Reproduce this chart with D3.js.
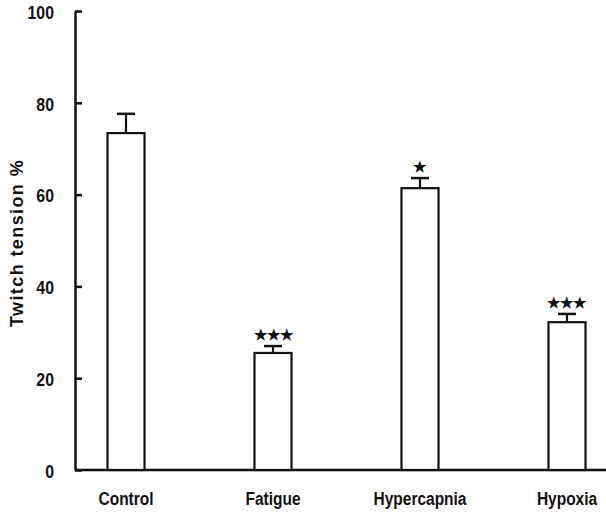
<!DOCTYPE html>
<html><head><meta charset="utf-8">
<script src="https://cdn.jsdelivr.net/npm/d3@7"></script>
<style>
body{margin:0;background:#fff;}
svg{display:block;}
text{font-family:"Liberation Sans",Arial,sans-serif;font-weight:bold;fill:#111;}
</style></head><body>
<svg id="c" width="606" height="513"></svg>
<script>
const categories = ["Control", "Fatigue", "Hypercapnia", "Hypoxia"];
const means = [73.4, 25.5, 61.4, 32.2];
const errors = [4.2, 1.5, 2.2, 1.8];
const stars = ["", "★★★", "★", "★★★"];
const yTicks = [0, 20, 40, 60, 80, 100];

const font = "Liberation Sans, Arial, sans-serif";
const svg = d3.select("#c");
const x0 = 75, yBase = 470, yTop = 11;
const x = d3.scaleBand().domain(categories).range([x0, 618]).paddingInner(0.748).paddingOuter(0.221);
const y = d3.scaleLinear().domain([0, 100]).range([yBase, yTop]);

function condense(sel, k) {
  sel.each(function () {
    const len = this.getComputedTextLength();
    d3.select(this).attr("textLength", len * k).attr("lengthAdjust", "spacingAndGlyphs");
  });
}

// Y axis
const yAxis = d3.axisLeft(y).tickValues(yTicks).tickSizeInner(-7).tickSizeOuter(0).tickPadding(21);
const gy = svg.append("g").attr("transform", `translate(${x0},0)`).call(yAxis);
gy.select(".domain").attr("stroke", "#111").attr("stroke-width", 2.5);
gy.selectAll(".tick line").attr("stroke", "#111").attr("stroke-width", 2.5);
gy.selectAll(".tick text").attr("font-size", 18).attr("font-family", font)
  .attr("font-weight", "bold").attr("fill", "#111").attr("dy", "0.4em")
  .call(condense, 0.88);

// X axis
const xAxis = d3.axisBottom(x).tickSize(0).tickPadding(22);
const gx = svg.append("g").attr("transform", `translate(0,${yBase})`).call(xAxis);
gx.select(".domain").remove();
gx.selectAll(".tick text").attr("font-size", 18).attr("font-family", font)
  .attr("font-weight", "bold").attr("fill", "#111")
  .call(condense, 0.86);
svg.append("line").attr("x1", x0).attr("x2", 606).attr("y1", y(0)).attr("y2", y(0))
  .attr("stroke", "#111").attr("stroke-width", 2.5);

const data = categories.map((c, i) => ({c, m: means[i], e: errors[i], s: stars[i]}));

// error bars
const eb = svg.append("g").selectAll("g").data(data).join("g");
eb.append("line")
  .attr("x1", d => x(d.c) + x.bandwidth() / 2).attr("x2", d => x(d.c) + x.bandwidth() / 2)
  .attr("y1", d => y(d.m)).attr("y2", d => y(d.m + d.e))
  .attr("stroke", "#111").attr("stroke-width", 2.2);
eb.append("line")
  .attr("x1", d => x(d.c) + x.bandwidth() / 2 - 9).attr("x2", d => x(d.c) + x.bandwidth() / 2 + 9)
  .attr("y1", d => y(d.m + d.e)).attr("y2", d => y(d.m + d.e))
  .attr("stroke", "#111").attr("stroke-width", 2.5);

// bars
svg.append("g").selectAll("rect").data(data).join("rect")
  .attr("x", d => x(d.c)).attr("width", x.bandwidth())
  .attr("y", d => y(d.m)).attr("height", d => y(0) - y(d.m))
  .attr("fill", "#fff").attr("stroke", "#111").attr("stroke-width", 2.2);

// significance stars
svg.append("g").selectAll("text").data(data).join("text")
  .attr("x", d => x(d.c) + x.bandwidth() / 2)
  .attr("y", d => y(d.m + d.e) - 6)
  .attr("text-anchor", "middle")
  .attr("font-family", "DejaVu Sans, sans-serif")
  .attr("font-size", 15)
  .text(d => d.s);

// y label
svg.append("text")
  .attr("transform", `translate(23,243) rotate(-90)`)
  .attr("text-anchor", "middle")
  .attr("font-family", font)
  .attr("font-size", 18)
  .attr("letter-spacing", 1.4)
  .text("Twitch tension %");
</script>
</body></html>
